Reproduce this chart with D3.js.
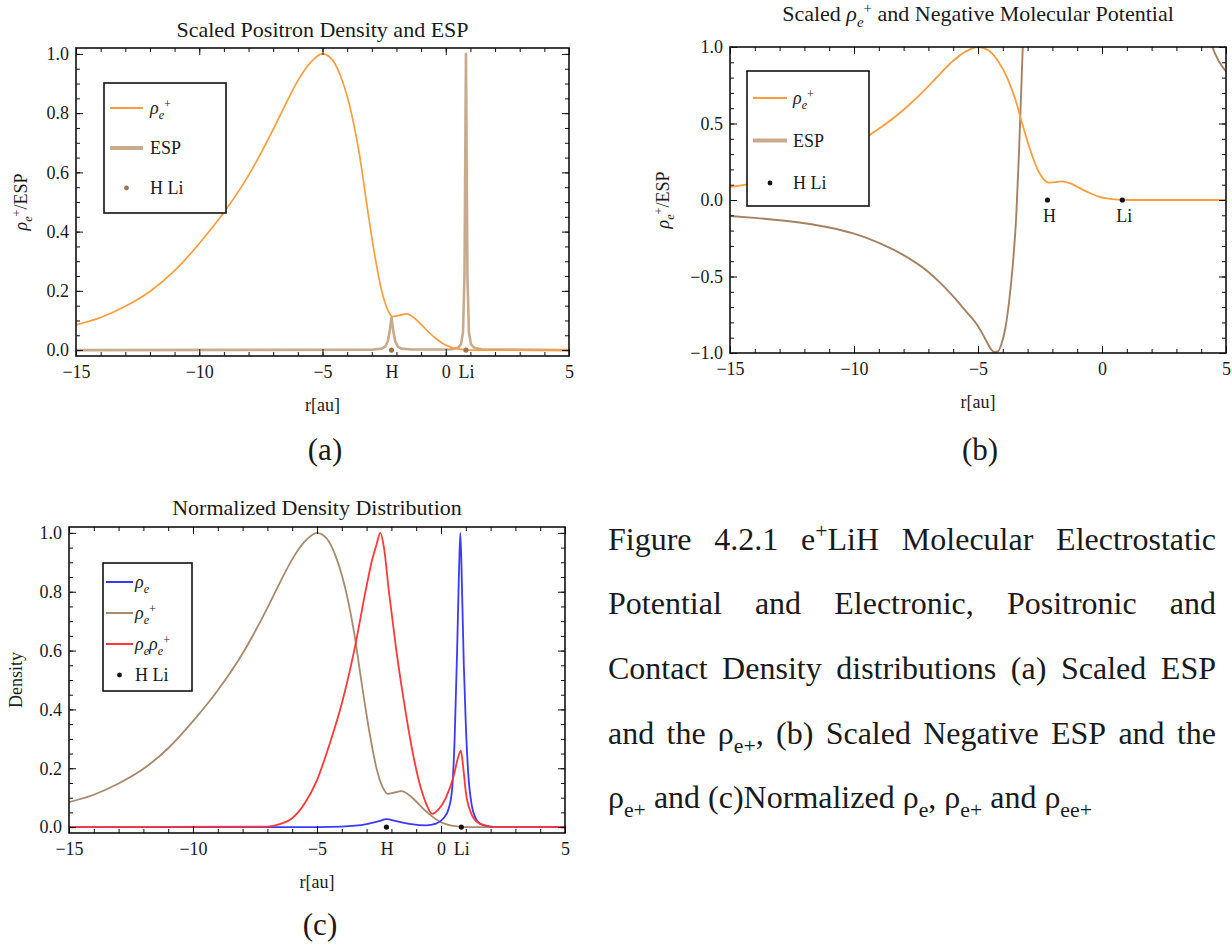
<!DOCTYPE html>
<html>
<head>
<meta charset="utf-8">
<script src="https://cdn.jsdelivr.net/npm/d3@7"></script>
<style>
  body { margin: 0; background: #fff; }
  svg { display: block; }
  text { font-family: "Liberation Serif", "Times New Roman", serif; fill: #1a1a1a; }
</style>
</head>
<body>
<svg id="fig" width="1232" height="945"></svg>
<script>
// ---------- data ----------
// positron density (scaled to peak 1) along the molecular axis, r in bohr
const rPositron = [-15, -14, -13, -12, -11, -10, -9, -8, -7, -6.5, -6, -5.5, -5, -4.6, -4.2, -3.8, -3.5, -3.2, -2.9, -2.6, -2.35, -2.15, -1.9, -1.6, -1.3, -1.0, -0.7, -0.4, -0.1, 0.2, 0.5, 0.8, 1.2, 2, 3, 4, 5];
const rhoPositron = [0.085, 0.11, 0.148, 0.198, 0.268, 0.36, 0.465, 0.59, 0.745, 0.83, 0.91, 0.97, 1.0, 0.98, 0.91, 0.79, 0.66, 0.49, 0.33, 0.2, 0.135, 0.113, 0.117, 0.122, 0.11, 0.087, 0.061, 0.039, 0.021, 0.01, 0.004, 0.001, 0, 0, 0, 0, 0];

// scaled electrostatic potential (cusps at the nuclei)
const rEspScaled = [-15, -3.0, -2.6, -2.45, -2.35, -2.28, -2.2, -2.12, -2.05, -1.95, -1.8, -1.4, 0.2, 0.5, 0.62, 0.7, 0.76, 0.82, 0.88, 0.94, 1.02, 1.15, 1.5, 5];
const espScaled = [0, 0.001, 0.005, 0.012, 0.03, 0.06, 0.11, 0.06, 0.03, 0.012, 0.005, 0.002, 0.002, 0.008, 0.02, 0.06, 0.25, 1.0, 0.25, 0.06, 0.02, 0.008, 0.002, 0];

// negative molecular potential, scaled to the [-1, 1] window
const rNegEsp = [-15, -14, -13, -12, -11, -10, -9, -8, -7, -6.5, -6, -5.5, -5, -4.75, -4.55, -4.35, -4.2, -4.05, -3.9, -3.75, -3.6, -3.45, -3.35, -3.25, -3.15, -3.0, 4.0, 4.45, 4.7, 5];
const negEsp = [-0.105, -0.117, -0.132, -0.152, -0.18, -0.22, -0.28, -0.36, -0.47, -0.545, -0.63, -0.725, -0.825, -0.895, -0.955, -0.993, -0.99, -0.94, -0.84, -0.67, -0.43, -0.08, 0.3, 0.75, 1.2, 1.8, 1.3, 1.0, 0.91, 0.84];

// electron density (normalized)
const rElectron = [-15, -6, -4, -3, -2.5, -2.2, -1.8, -1.2, -0.6, -0.2, 0.1, 0.3, 0.45, 0.55, 0.65, 0.72, 0.78, 0.85, 0.92, 1.0, 1.1, 1.25, 1.4, 1.6, 2, 2.5, 5];
const rhoElectron = [0, 0, 0.002, 0.01, 0.02, 0.027, 0.02, 0.01, 0.006, 0.012, 0.03, 0.06, 0.13, 0.3, 0.6, 0.85, 1.0, 0.8, 0.55, 0.35, 0.18, 0.07, 0.03, 0.01, 0.002, 0, 0];

// contact density rho_e * rho_e+ (normalized)
const rContact = [-15, -7, -6.5, -6, -5.5, -5, -4.5, -4, -3.5, -3, -2.8, -2.6, -2.45, -2.3, -2.1, -1.8, -1.5, -1.2, -0.9, -0.6, -0.35, -0.1, 0.2, 0.5, 0.7, 0.8, 0.9, 1.0, 1.2, 1.5, 2, 2.5, 5];
const rhoContact = [0, 0.002, 0.01, 0.03, 0.08, 0.16, 0.28, 0.42, 0.6, 0.82, 0.9, 0.96, 1.0, 0.95, 0.8, 0.6, 0.43, 0.28, 0.16, 0.08, 0.045, 0.06, 0.1, 0.17, 0.24, 0.26, 0.2, 0.12, 0.05, 0.015, 0.002, 0, 0];

// nuclear positions
const atomNames = ["H", "Li"];
const atomR = [-2.2, 0.82];

// ticks
const xMajorTicks = [-15, -10, -5, 0, 5];
const xMinorTicks = d3.range(-15, 5.001, 1);
const yTicksUnit = [0, 0.2, 0.4, 0.6, 0.8, 1.0];
const yMinorUnit = d3.range(0, 1.0001, 0.05);
const yTicksSigned = [-1, -0.5, 0, 0.5, 1];
const yMinorSigned = d3.range(-1, 1.0001, 0.1);

const captionLines = [
  "Figure 4.2.1 e^{+}LiH Molecular Electrostatic",
  "Potential and Electronic, Positronic and",
  "Contact Density distributions (a) Scaled ESP",
  "and the ρ_{e+}, (b) Scaled Negative ESP and the",
  "ρ_{e+} and (c)Normalized ρ_{e}, ρ_{e+} and ρ_{ee+}"
];

// ---------- helpers ----------
const svg = d3.select("#fig");
const COL = {
  orange: "#ff9d3f",
  tan: "#c8aa8c",
  espDark: "#a58263",
  brown: "#a88a6c",
  blue: "#3a3aff",
  red: "#ff3838",
  dotBrown: "#9c7650"
};
const toPts = (xs, ys) => xs.map((r, i) => [r, ys[i]]);

// writes "ρ_{e}^{+}" style markup as tspans
function rich(sel, str, fs, italicMath) {
  const re = /_\{([^}]*)\}|\^\{([^}]*)\}|([^_^]+)/g;
  const parts = [];
  let m;
  while ((m = re.exec(str))) {
    if (m[1] !== undefined) parts.push({ s: m[1], mode: "sub" });
    else if (m[2] !== undefined) parts.push({ s: m[2], mode: "sup" });
    else m[3].split(/(ρ)/).filter(s => s.length).forEach(s => parts.push({ s, mode: "n" }));
  }
  let cur = 0;
  parts.forEach(p => {
    const target = p.mode === "sub" ? 0.28 * fs : p.mode === "sup" ? -0.36 * fs : 0;
    const t = sel.append("tspan")
      .attr("dy", target - cur)
      .attr("font-size", p.mode === "n" ? fs : 0.68 * fs)
      .text(p.s);
    if (italicMath && (p.s === "ρ" || p.mode === "sub")) t.attr("font-style", "italic");
    cur = target;
  });
  return sel;
}

function styleTickAxis(s) {
  s.select(".domain").remove();
  s.selectAll("line").attr("stroke", "#111").attr("stroke-width", 1);
}

function drawPanel(cfg) {
  const g = svg.append("g");
  const x = d3.scaleLinear().domain([-15, 5]).range([cfg.left, cfg.right]);
  const y = d3.scaleLinear().domain(cfg.yDomain).range([cfg.bottom, cfg.top]);

  const clipId = "clip-" + cfg.id;
  g.append("clipPath").attr("id", clipId).append("rect")
    .attr("x", cfg.left).attr("y", cfg.top)
    .attr("width", cfg.right - cfg.left).attr("height", cfg.bottom - cfg.top);

  const plot = g.append("g").attr("clip-path", `url(#${clipId})`);
  cfg.series.forEach(s => {
    const line = d3.line().x(d => x(d[0])).y(d => y(d[1]))
      .curve(s.linear ? d3.curveLinear : d3.curveMonotoneX);
    plot.append("path").datum(s.points)
      .attr("fill", "none").attr("stroke", s.color)
      .attr("stroke-width", s.width).attr("stroke-linejoin", "round")
      .attr("d", line);
  });

  // nuclei markers
  plot.selectAll("circle.atom").data(atomR).join("circle")
    .attr("class", "atom")
    .attr("cx", d => x(d)).attr("cy", y(0)).attr("r", 2.6)
    .attr("fill", cfg.dotColor);
  if (cfg.atomLabelsInside) {
    g.selectAll("text.atomlab").data(atomR).join("text")
      .attr("class", "atomlab")
      .attr("x", d => x(d) + 2).attr("y", y(0) + 22)
      .attr("text-anchor", "middle").attr("font-size", 18)
      .text((d, i) => atomNames[i]);
  }

  // frame ticks, inward on all four sides
  const tk = (axis, vals, size, tr) =>
    g.append("g").attr("transform", tr)
      .call(axis.tickValues(vals).tickSize(size).tickSizeOuter(0).tickFormat(""))
      .call(styleTickAxis);
  tk(d3.axisBottom(x), xMinorTicks, -4, `translate(0,${cfg.bottom})`);
  tk(d3.axisBottom(x), xMajorTicks, -7, `translate(0,${cfg.bottom})`);
  tk(d3.axisTop(x), xMinorTicks, -4, `translate(0,${cfg.top})`);
  tk(d3.axisTop(x), xMajorTicks, -7, `translate(0,${cfg.top})`);
  tk(d3.axisLeft(y), cfg.yMinor, -4, `translate(${cfg.left},0)`);
  tk(d3.axisLeft(y), cfg.yMajor, -7, `translate(${cfg.left},0)`);
  tk(d3.axisRight(y), cfg.yMinor, -4, `translate(${cfg.right},0)`);
  tk(d3.axisRight(y), cfg.yMajor, -7, `translate(${cfg.right},0)`);

  g.append("rect")
    .attr("x", cfg.left).attr("y", cfg.top)
    .attr("width", cfg.right - cfg.left).attr("height", cfg.bottom - cfg.top)
    .attr("fill", "none").attr("stroke", "#111").attr("stroke-width", 1.6);

  // tick labels
  const fmtY = d3.format(".1f");
  const xl = g.append("g").attr("transform", `translate(0,${cfg.bottom})`)
    .call(d3.axisBottom(x).tickValues(cfg.xLabelVals)
      .tickFormat((d, i) => cfg.xLabels[i]).tickSize(0).tickPadding(9))
    .call(s => s.select(".domain").remove());
  xl.selectAll("text").attr("font-size", 18).attr("font-family", null).attr("fill", "#1a1a1a");
  const yl = g.append("g").attr("transform", `translate(${cfg.left},0)`)
    .call(d3.axisLeft(y).tickValues(cfg.yMajor).tickFormat(fmtY).tickSize(0).tickPadding(7))
    .call(s => s.select(".domain").remove());
  yl.selectAll("text").attr("font-size", 18).attr("font-family", null).attr("fill", "#1a1a1a");

  // titles
  rich(g.append("text").attr("x", (cfg.left + cfg.right) / 2).attr("y", cfg.titleY)
    .attr("text-anchor", "middle"), cfg.title, 22, true);
  g.append("text").attr("x", (cfg.left + cfg.right) / 2).attr("y", cfg.bottom + 55)
    .attr("text-anchor", "middle").attr("font-size", 18).text("r[au]");
  rich(g.append("text")
    .attr("transform", `translate(${cfg.yLabelX},${(cfg.top + cfg.bottom) / 2}) rotate(-90)`)
    .attr("text-anchor", "middle"), cfg.yLabel, 18, true);

  // legend
  const L = cfg.legend;
  g.append("rect").attr("x", L.x).attr("y", L.y).attr("width", L.w).attr("height", L.h)
    .attr("fill", "#fff").attr("stroke", "#111").attr("stroke-width", 1.6);
  L.items.forEach((it, i) => {
    const yy = L.y + L.first + i * L.step;
    if (it.dot) {
      g.append("circle").attr("cx", (L.lineX0 + L.lineX1) / 2).attr("cy", yy).attr("r", 2.4).attr("fill", it.color);
    } else {
      g.append("line").attr("x1", L.lineX0).attr("x2", L.lineX1).attr("y1", yy).attr("y2", yy)
        .attr("stroke", it.color).attr("stroke-width", it.width);
    }
    rich(g.append("text").attr("x", L.textX).attr("y", yy + 6), it.label, 18, true);
  });
}

// ---------- panel (a) ----------
drawPanel({
  id: "a", left: 76, right: 569, top: 48, bottom: 356,
  yDomain: [-0.02, 1.02], yMajor: yTicksUnit, yMinor: yMinorUnit,
  xLabelVals: [-15, -10, -5, atomR[0], 0, atomR[1], 5],
  xLabels: ["−15", "−10", "−5", atomNames[0], "0", atomNames[1], "5"],
  title: "Scaled Positron Density and ESP", titleY: 37,
  yLabel: "ρ_{e}^{+}/ESP", yLabelX: 27,
  dotColor: COL.dotBrown,
  series: [
    { points: toPts(rEspScaled, espScaled), color: COL.tan, width: 2.6, linear: true },
    { points: toPts(rPositron, rhoPositron), color: COL.orange, width: 1.7 }
  ],
  legend: {
    x: 104, y: 83, w: 122, h: 130, first: 25, step: 40,
    lineX0: 110, lineX1: 143, textX: 150,
    items: [
      { label: "ρ_{e}^{+}", color: COL.orange, width: 2 },
      { label: "ESP", color: COL.tan, width: 4 },
      { label: "H Li", color: COL.dotBrown, dot: true }
    ]
  }
});

// ---------- panel (b) ----------
drawPanel({
  id: "b", left: 730, right: 1226, top: 47, bottom: 353,
  yDomain: [-1, 1], yMajor: yTicksSigned, yMinor: yMinorSigned,
  xLabelVals: xMajorTicks,
  xLabels: xMajorTicks.map(d3.format("")),
  title: "Scaled ρ_{e}^{+} and Negative Molecular Potential", titleY: 21,
  yLabel: "ρ_{e}^{+}/ESP", yLabelX: 669,
  dotColor: "#111", atomLabelsInside: true,
  series: [
    { points: toPts(rNegEsp, negEsp), color: COL.espDark, width: 1.9 },
    { points: toPts(rPositron, rhoPositron), color: COL.orange, width: 1.8 }
  ],
  legend: {
    x: 747, y: 71, w: 122, h: 135, first: 27, step: 42.5,
    lineX0: 753, lineX1: 787, textX: 793,
    items: [
      { label: "ρ_{e}^{+}", color: COL.orange, width: 2 },
      { label: "ESP", color: COL.tan, width: 4 },
      { label: "H Li", color: "#111", dot: true }
    ]
  }
});

// ---------- panel (c) ----------
drawPanel({
  id: "c", left: 69, right: 565, top: 527, bottom: 833,
  yDomain: [-0.02, 1.02], yMajor: yTicksUnit, yMinor: yMinorUnit,
  xLabelVals: [-15, -10, -5, atomR[0], 0, atomR[1], 5],
  xLabels: ["−15", "−10", "−5", atomNames[0], "0", atomNames[1], "5"],
  title: "Normalized Density Distribution", titleY: 515,
  yLabel: "Density", yLabelX: 22,
  dotColor: "#111",
  series: [
    { points: toPts(rPositron, rhoPositron), color: COL.brown, width: 1.8 },
    { points: toPts(rElectron, rhoElectron), color: COL.blue, width: 1.8 },
    { points: toPts(rContact, rhoContact), color: COL.red, width: 1.8 }
  ],
  legend: {
    x: 103, y: 563, w: 89, h: 128, first: 19, step: 31,
    lineX0: 106, lineX1: 133, textX: 135,
    items: [
      { label: "ρ_{e}", color: COL.blue, width: 2 },
      { label: "ρ_{e}^{+}", color: COL.brown, width: 2 },
      { label: "ρ_{e}ρ_{e}^{+}", color: COL.red, width: 2 },
      { label: "H Li", color: "#111", dot: true }
    ]
  }
});

// ---------- sub-figure letters ----------
[["(a)", 325, 460], ["(b)", 980, 460], ["(c)", 320, 935]].forEach(([t, cx, by]) => {
  svg.append("text").attr("x", cx).attr("y", by).attr("text-anchor", "middle")
    .attr("font-size", 31).text(t);
});

// ---------- caption, justified between two margins ----------
const capLeft = 608, capRight = 1216, capFs = 32;
const capBase = [550, 614, 679, 744, 808];
captionLines.forEach((line, li) => {
  const words = line.split(" ");
  const nodes = words.map(w => {
    const t = svg.append("text").attr("y", capBase[li]).attr("font-size", capFs);
    rich(t, w, capFs, false);
    return t;
  });
  const widths = nodes.map(n => n.node().getComputedTextLength());
  const total = d3.sum(widths);
  const last = li === captionLines.length - 1;
  const gap = last ? capFs * 0.25 : (capRight - capLeft - total) / (words.length - 1);
  let cx = capLeft;
  nodes.forEach((n, i) => { n.attr("x", cx); cx += widths[i] + gap; });
});
</script>
</body>
</html>
